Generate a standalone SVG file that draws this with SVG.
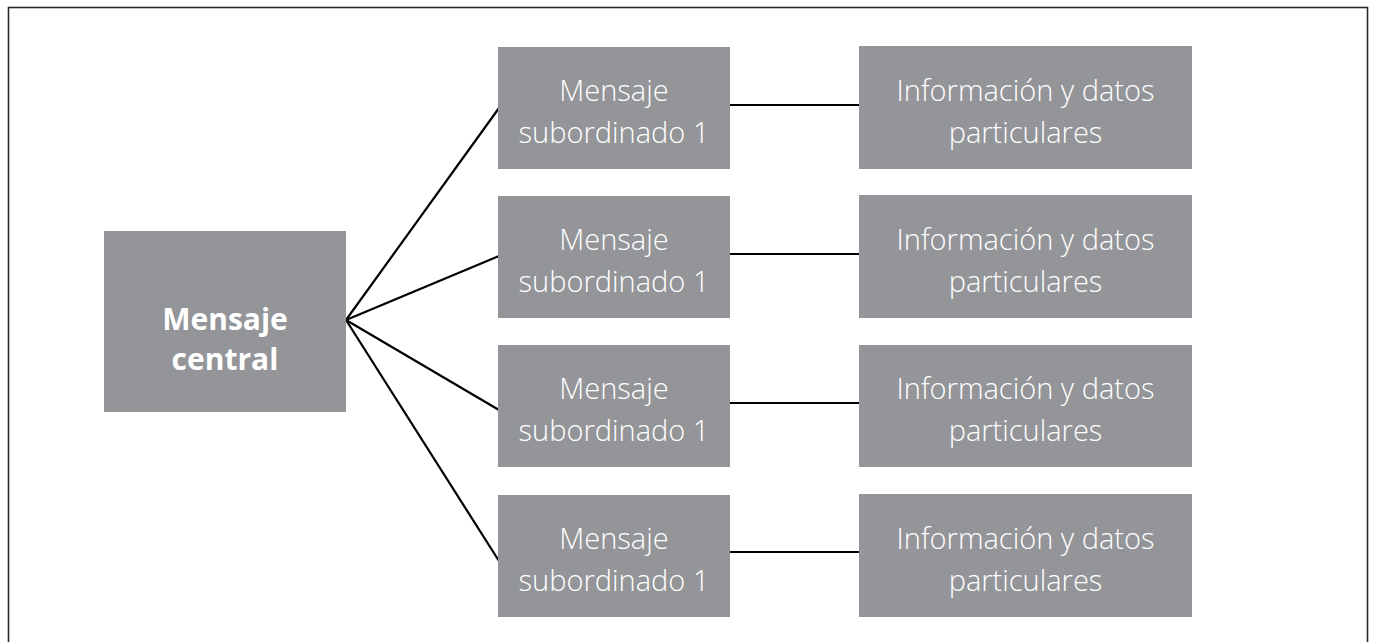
<svg xmlns="http://www.w3.org/2000/svg" width="1374" height="642" viewBox="0 0 1374 642">
<style>
.box{fill:#939598}
.t{font-family:"Open Sans","Liberation Sans",sans-serif;font-size:29px;font-weight:300;fill:#ffffff;text-anchor:middle}
.tb{font-family:"Open Sans","Liberation Sans",sans-serif;font-size:30px;font-weight:bold;fill:#ffffff;text-anchor:middle}
.c{stroke:#000;stroke-width:2.2;fill:none}
</style>
<rect x="0" y="0" width="1374" height="642" fill="#ffffff"/>
<rect x="8.5" y="7.5" width="1359" height="700" fill="none" stroke="#2a2a2a" stroke-width="1.6"/>
<g id="connectors">
<line class="c" x1="346" y1="320" x2="499" y2="108"/>
<line class="c" x1="346" y1="320" x2="499" y2="256"/>
<line class="c" x1="346" y1="320" x2="499" y2="410"/>
<line class="c" x1="346" y1="320" x2="499" y2="561"/>
<line class="c" x1="730" y1="105" x2="859" y2="105"/>
<line class="c" x1="730" y1="254" x2="859" y2="254"/>
<line class="c" x1="730" y1="403" x2="859" y2="403"/>
<line class="c" x1="730" y1="552" x2="859" y2="552"/>
</g>
<g id="central">
<rect class="box" x="104" y="231" width="242" height="181"/>
<text class="tb" x="225" y="330">Mensaje</text>
<text class="tb" x="225" y="370">central</text>
</g>
<g id="sub1">
<rect class="box" x="498" y="47" width="232" height="122"/>
<text class="t" x="614" y="101">Mensaje</text>
<text class="t" x="614" y="143">subordinado 1</text>
</g>
<g id="sub2">
<rect class="box" x="498" y="196" width="232" height="122"/>
<text class="t" x="614" y="250">Mensaje</text>
<text class="t" x="614" y="292">subordinado 1</text>
</g>
<g id="sub3">
<rect class="box" x="498" y="345" width="232" height="122"/>
<text class="t" x="614" y="399">Mensaje</text>
<text class="t" x="614" y="441">subordinado 1</text>
</g>
<g id="sub4">
<rect class="box" x="498" y="495" width="232" height="122"/>
<text class="t" x="614" y="549">Mensaje</text>
<text class="t" x="614" y="591">subordinado 1</text>
</g>
<g id="info1">
<rect class="box" x="859" y="46" width="333" height="123"/>
<text class="t" x="1025.5" y="101">Información y datos</text>
<text class="t" x="1025.5" y="143">particulares</text>
</g>
<g id="info2">
<rect class="box" x="859" y="195" width="333" height="123"/>
<text class="t" x="1025.5" y="250">Información y datos</text>
<text class="t" x="1025.5" y="292">particulares</text>
</g>
<g id="info3">
<rect class="box" x="859" y="345" width="333" height="122"/>
<text class="t" x="1025.5" y="399">Información y datos</text>
<text class="t" x="1025.5" y="441">particulares</text>
</g>
<g id="info4">
<rect class="box" x="859" y="494" width="333" height="123"/>
<text class="t" x="1025.5" y="549">Información y datos</text>
<text class="t" x="1025.5" y="591">particulares</text>
</g>
</svg>
